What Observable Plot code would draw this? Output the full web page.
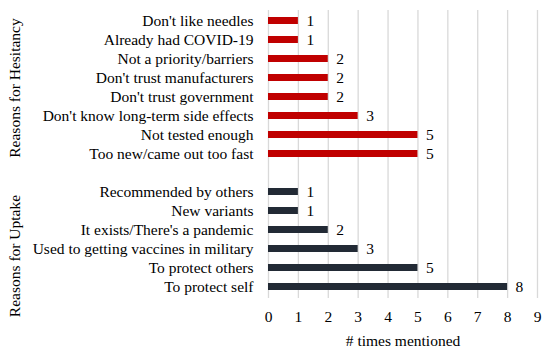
<!DOCTYPE html>
<html>
<head>
<meta charset="utf-8">
<script src="https://cdn.jsdelivr.net/npm/d3@7"></script>
<script src="https://cdn.jsdelivr.net/npm/@observablehq/plot@0.6"></script>
<style>
  html, body { margin: 0; padding: 0; background: #fff; }
  svg { font-family: "Liberation Serif", serif; }
</style>
</head>
<body>
<div id="chart"></div>
<script>
const hesitancyLabels = [
  "Don't like needles",
  "Already had COVID-19",
  "Not a priority/barriers",
  "Don't trust manufacturers",
  "Don't trust government",
  "Don't know long-term side effects",
  "Not tested enough",
  "Too new/came out too fast"
];
const hesitancyValues = [1, 1, 2, 2, 2, 3, 5, 5];

const uptakeLabels = [
  "Recommended by others",
  "New variants",
  "It exists/There's a pandemic",
  "Used to getting vaccines in military",
  "To protect others",
  "To protect self"
];
const uptakeValues = [1, 1, 2, 3, 5, 8];

const groupNames = ["Reasons for Hesitancy", "Reasons for Uptake"];
const xTicks = [0, 1, 2, 3, 4, 5, 6, 7, 8, 9];

const spacer = " ";
const data = [
  ...hesitancyLabels.map((r, i) => ({reason: r, value: hesitancyValues[i], group: groupNames[0]})),
  ...uptakeLabels.map((r, i) => ({reason: r, value: uptakeValues[i], group: groupNames[1]}))
];
const yDomain = [...hesitancyLabels, spacer, ...uptakeLabels];
const colors = {[groupNames[0]]: "#C00000", [groupNames[1]]: "#222A35"};

const FS = 15.5;

const chart = Plot.plot({
  width: 550,
  height: 357,
  marginLeft: 268,
  marginRight: 13,
  marginTop: 10,
  marginBottom: 59,
  style: {fontFamily: "Liberation Serif, serif", fontSize: FS + "px", color: "#000", background: "#fff"},
  x: {domain: [0, 9]},
  y: {domain: yDomain, paddingInner: 0.62, paddingOuter: 0.31},
  marks: [
    Plot.gridX(xTicks, {stroke: "#d9d9d9", strokeOpacity: 1, strokeWidth: 1.3}),
    Plot.barX(data, {y: "reason", x: "value", fill: d => colors[d.group]}),
    Plot.text(data, {y: "reason", x: "value", text: d => String(d.value), textAnchor: "start", dx: 8, fontSize: FS, fill: "#000"}),
    Plot.axisY({tickSize: 0, tickPadding: 15, label: null, fontSize: FS, tickFormat: d => d}),
    Plot.axisX(xTicks, {tickSize: 0, tickPadding: 12, fontSize: FS, label: "# times mentioned", labelAnchor: "center", labelArrow: "none", labelOffset: 47, tickFormat: d => String(d)}),
    Plot.text([groupNames[0]], {y: [hesitancyLabels[3]], text: d => d, frameAnchor: "left", dx: -253, dy: 10, rotate: -90, textAnchor: "middle", fontSize: FS, fill: "#000"}),
    Plot.text([groupNames[1]], {y: [uptakeLabels[3]], text: d => d, frameAnchor: "left", dx: -253, dy: 7, rotate: -90, textAnchor: "middle", fontSize: FS, fill: "#000"})
  ]
});
document.getElementById("chart").appendChild(chart);
</script>
</body>
</html>
